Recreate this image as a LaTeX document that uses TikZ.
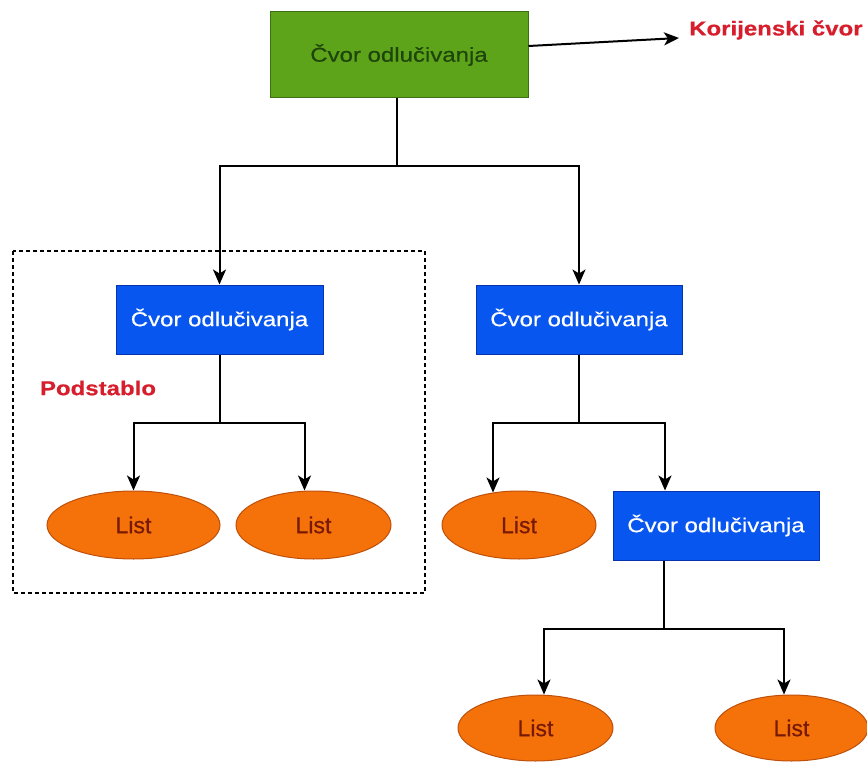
\documentclass[tikz,border=0pt]{standalone}
\usepackage{fontspec}
\setmainfont{Liberation Sans}[FakeStretch=1.2,FakeBold=0.6]
\newfontfamily\leaffont{Liberation Sans}[FakeBold=0.6]
\usetikzlibrary{shapes.geometric,arrows.meta,calc}
\definecolor{rootgreen}{RGB}{94,164,26}
\definecolor{rootedge}{RGB}{60,110,20}
\definecolor{roottext}{RGB}{30,70,12}
\definecolor{nodeblue}{RGB}{8,86,240}
\definecolor{blueedge}{RGB}{10,50,170}
\definecolor{leaforange}{RGB}{245,114,10}
\definecolor{leafedge}{RGB}{190,80,10}
\definecolor{leaftext}{RGB}{120,25,5}
\definecolor{labred}{RGB}{215,30,45}
\tikzset{
  every node/.style={font=\fontsize{20}{24}\selectfont},
  rootbox/.style={rectangle, draw=rootedge, line width=1pt, fill=rootgreen, text=roottext, minimum width=258pt, minimum height=86pt, inner sep=0pt},
  decbox/.style={rectangle, draw=blueedge, line width=1pt, fill=nodeblue, text=white, minimum width=206pt, minimum height=69pt, inner sep=0pt},
  leaf/.style={ellipse, draw=leafedge, line width=1pt, fill=leaforange, text=leaftext, minimum height=68pt, inner sep=0pt, font=\leaffont\fontsize{23}{26}\selectfont},
  redlab/.style={text=labred, font=\fontsize{20}{24}\selectfont\bfseries, inner sep=0pt},
  conn/.style={line width=2pt, black},
  arr/.style={conn, -{Stealth[length=15pt,width=13pt,inset=4pt]}},
  subtree/.style={draw=black, line width=1.1pt, dash pattern=on 4pt off 3pt}
}
\begin{document}
\begin{tikzpicture}[x=1pt,y=-1pt]
\useasboundingbox (0,0) rectangle (867,762);
\fill[white] (0,0) rectangle (867,762);

\draw[subtree] (13,251) rectangle (425,593);

\node[rootbox] (root) at (399,55) {Čvor odlučivanja};
\node[redlab, anchor=west] (kc) at (689,30) {Korijenski čvor};

\node[decbox, minimum width=207pt] (c1) at (219.5,319.5) {Čvor odlučivanja};
\node[decbox] (c2) at (579,319.5) {Čvor odlučivanja};
\node[decbox] (c3) at (716,525.5) {Čvor odlučivanja};

\node[redlab] (pod) at (98,388) {Podstablo};

\node[leaf, minimum width=173pt] (l1) at (133.5,525) {List};
\node[leaf, minimum width=155pt] (l2) at (313.5,525) {List};
\node[leaf, minimum width=154pt] (l3) at (519,525) {List};
\node[leaf, minimum width=155pt, minimum height=66pt] (l4) at (535.5,728) {List};
\node[leaf, minimum width=153pt, minimum height=66pt] (l5) at (791.5,728) {List};

% root
\draw[arr] ($(root.east)+(0,-9)$) -- ($(kc.west)+(-10,8)$);
\draw[conn] ($(root.south)+(-2,0)$) -- ++(0,68) coordinate (j0);
\draw[arr] (j0) -| (c1.north);
\draw[arr] (j0) -| (c2.north);

% left subtree
\draw[conn] (c1.south) -- ++(0,68) coordinate (j1);
\draw[arr] (j1) -| (l1.north);
\draw[arr] (j1) -| ($(l2.north)+(-9,0)$);

% right subtree
\draw[conn] (c2.south) -- ++(0,68) coordinate (j2);
\draw[arr] (j2) -| ($(l3.north)+(-26,2)$);
\draw[arr] (j2) -| ($(c3.north)+(-51,0)$);

% bottom
\draw[conn] ($(c3.south)+(-52,0)$) -- ++(0,68) coordinate (j3);
\draw[arr] (j3) -| ($(l4.north)+(8.5,0)$);
\draw[arr] (j3) -| ($(l5.north)+(-7.5,0)$);
\end{tikzpicture}
\end{document}
